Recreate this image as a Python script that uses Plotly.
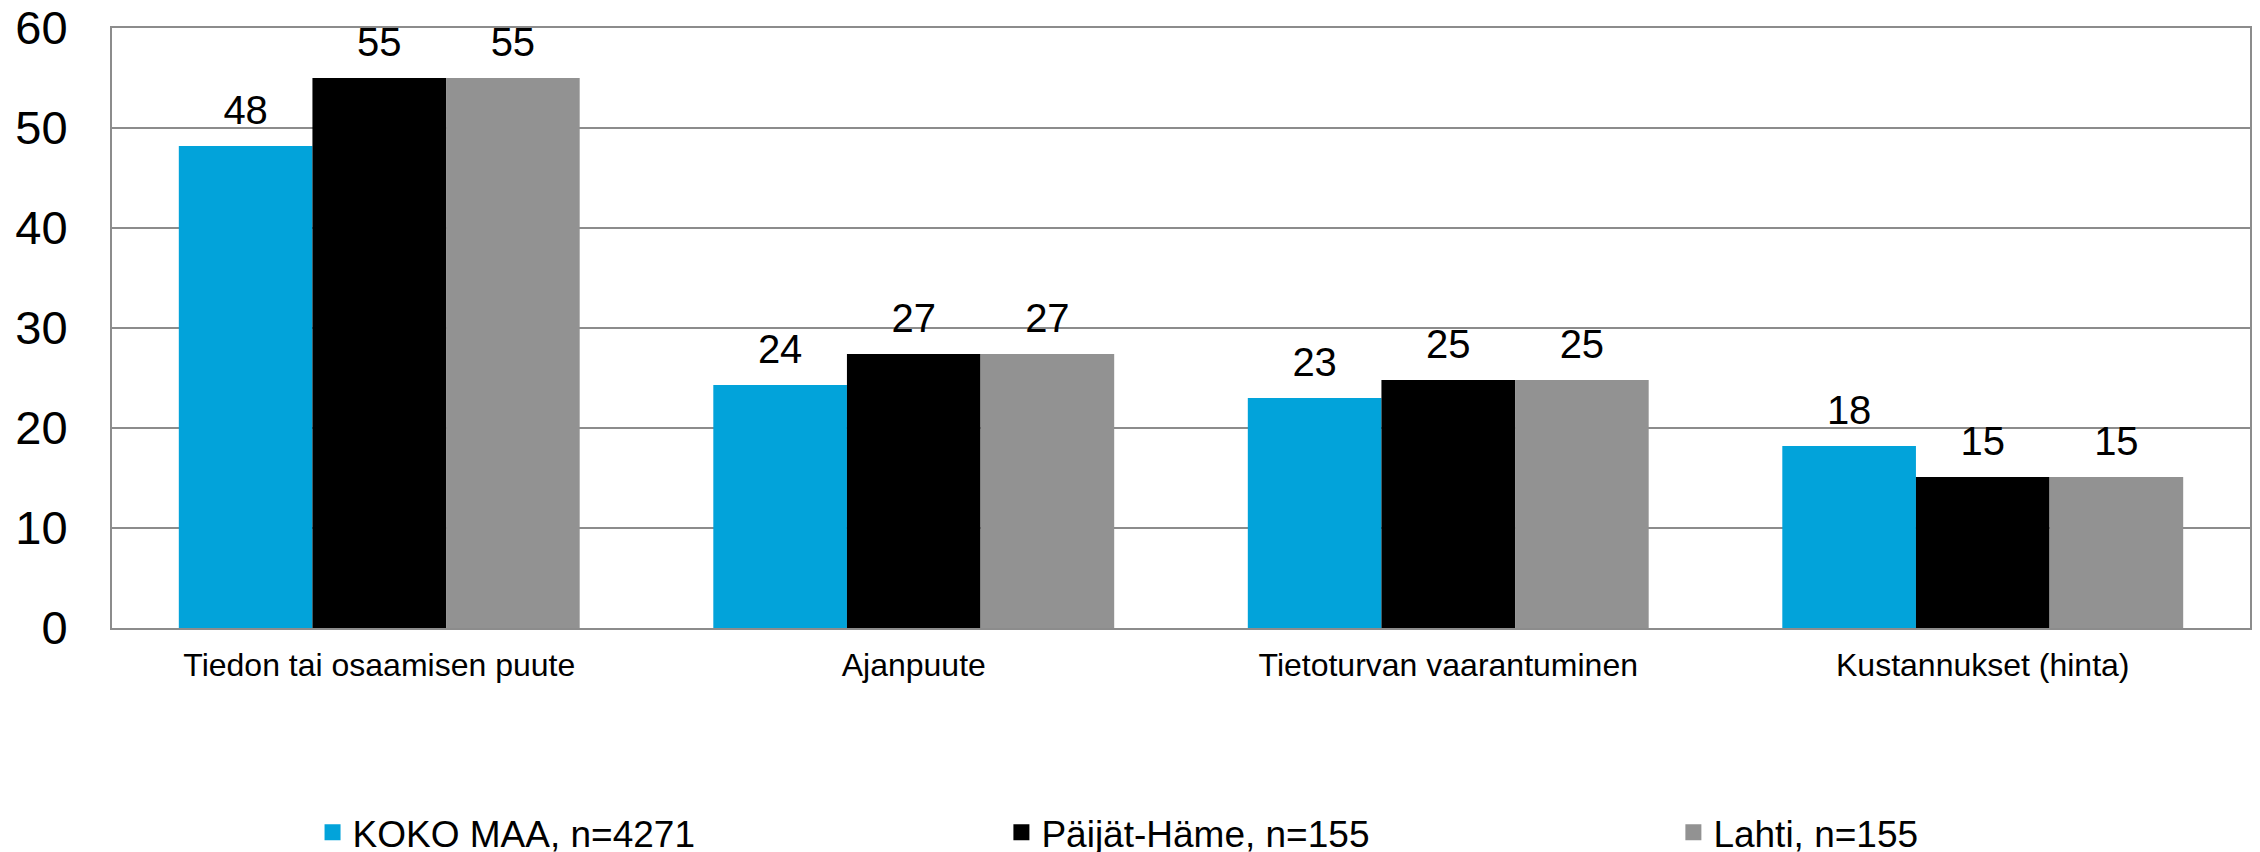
import plotly.graph_objects as go

categories = ['Tiedon tai osaamisen puute', 'Ajanpuute', 'Tietoturvan vaarantuminen', 'Kustannukset (hinta)']
koko_maa = [48.2, 24.3, 23.0, 18.2]
paijat_hame = [55.0, 27.4, 24.8, 15.1]
lahti = [55.0, 27.4, 24.8, 15.1]
series_names = ['KOKO MAA, n=4271', 'Päijät-Häme, n=155', 'Lahti, n=155']
y_ticks = [0, 10, 20, 30, 40, 50, 60]

colors = ['#02A3DA', '#000000', '#929292']
font_family = 'Liberation Sans, Arial, sans-serif'
legend_x = [0.0938, 0.4160, 0.7303]

fig = go.Figure()
for i, (name, vals) in enumerate(zip(series_names, [koko_maa, paijat_hame, lahti])):
    grp = str(i)
    leg_id = 'legend' if i == 0 else 'legend%d' % (i + 1)
    fig.add_trace(go.Bar(x=categories, y=vals, name=name, offsetgroup=grp,
                         marker=dict(color=colors[i], line=dict(width=0)),
                         showlegend=False))
    # value labels, aligned with the bars through scattermode='group'
    # (invisible marker only gives the text some room above the bar)
    fig.add_trace(go.Scatter(x=categories, y=vals, mode='markers+text', offsetgroup=grp,
                             marker=dict(size=18, opacity=0),
                             texttemplate='%{y:.0f}', textposition='top center',
                             textfont=dict(size=40, color='black', family=font_family),
                             cliponaxis=False, hoverinfo='skip', showlegend=False))
    # legend swatch as a square marker
    fig.add_trace(go.Scatter(x=[None], y=[None], mode='markers', name=name, offsetgroup=grp,
                             marker=dict(symbol='square', size=19, color=colors[i]),
                             legend=leg_id))

leg = dict(orientation='h', yanchor='middle', y=-0.341, xanchor='left',
           font=dict(size=37, color='black', family=font_family),
           bgcolor='rgba(0,0,0,0)')

# page body has an 8px margin, so the figure is 8px smaller on each axis
fig.update_layout(
    barmode='group',
    scattermode='group',
    bargap=0.25,
    bargroupgap=0,
    scattergap=0.25,
    width=2252, height=844,
    margin=dict(l=104, r=10, t=20, b=224, autoexpand=False),
    plot_bgcolor='white',
    paper_bgcolor='white',
    font=dict(family=font_family, color='black'),
    legend=dict(leg, x=legend_x[0]),
    legend2=dict(leg, x=legend_x[1]),
    legend3=dict(leg, x=legend_x[2]),
    xaxis=dict(
        automargin=False,
        showline=True, linecolor='#8C8C8C', linewidth=2, mirror=True,
        showgrid=False, ticks='outside', ticklen=8, tickcolor='rgba(0,0,0,0)',
        tickfont=dict(size=32, color='black'),
    ),
    yaxis=dict(
        automargin=False, ticklabeloverflow='allow',
        range=[0, 60], tickvals=y_ticks,
        showline=True, linecolor='#8C8C8C', linewidth=2, mirror=True,
        showgrid=True, gridcolor='#8C8C8C', gridwidth=2, zeroline=False,
        ticks='outside', ticklen=33, tickcolor='rgba(0,0,0,0)',
        tickfont=dict(size=47, color='black'),
    ),
)

fig.write_html("out.html")
